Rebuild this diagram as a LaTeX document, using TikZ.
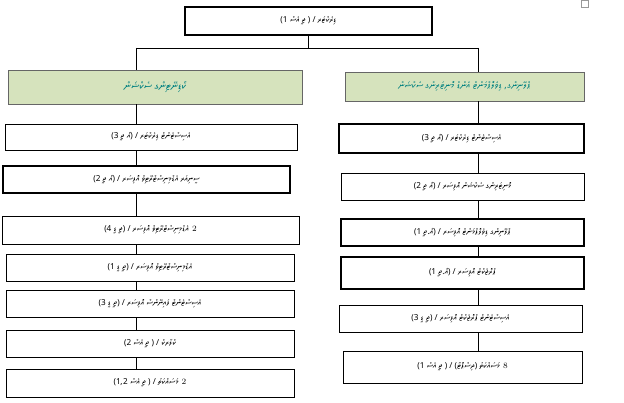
\documentclass[tikz,border=0pt]{standalone}
\usepackage{fontspec}
\usepackage{tikz}
\usetikzlibrary{calc}
\TeXXeTstate=1
\IfFontExistsTF{Noto Sans Thaana}{\newfontfamily\thaanafont[Script=Thaana]{Noto Sans Thaana}}{%
  \IfFontExistsTF{FreeSerif}{\newfontfamily\thaanafont[Script=Thaana]{FreeSerif}}{%
    \newfontfamily\thaanafont{DejaVu Sans}}}
\newcommand{\dv}[1]{{\thaanafont\beginR #1\endR}}
\begin{document}
\begin{tikzpicture}[x=0.03cm,y=-0.03cm,
    box/.style={draw, thin, inner sep=0pt, font=\scriptsize},
    thickbox/.style={box, line width=1.6pt},
    headbox/.style={draw=black!60, inner sep=0pt, font=\small\bfseries, text=teal}]
    \useasboundingbox (0,0) rectangle (624,403);
    \definecolor{hdgreen}{rgb}{0.84,0.89,0.74}
    %top
    \node[thickbox, minimum width=7.4cm, minimum height=0.84cm] (top) at (308.5,21) {\dv{ޑިރެކްޓަރ / ( ޖީ އެސް 1)}};
    \coordinate (jn) at (308.5,48);
    \coordinate (jl) at (136,48);
    \coordinate (jr) at (478,48);
    %heads
    \node[headbox, fill=hdgreen, minimum width=8.82cm, minimum height=1.02cm] (lh) at (155,87) {\dv{ކޯޑިނޭޓިންގ ސެކްޝަން}};
    \node[headbox, fill=hdgreen, minimum width=7.17cm, minimum height=0.87cm, font=\footnotesize\bfseries] (rh) at (464.5,86.5) {\dv{ޕްލޭނިންގ، ޑިވެލޮޕްމަންޓް އެންޑް މޮނިޓަރިންގ ސެކްޝަން}};
    %left column
    \node[box, minimum width=8.76cm, minimum height=0.78cm] (l1) at (151,137) {\dv{އެސިސްޓެންޓް ޑިރެކްޓަރ / (އޯ ޖީ 3)}};
    \node[thickbox, minimum width=8.61cm, minimum height=0.81cm] (l2) at (146.5,179.5) {\dv{ސީނިއަރ އެޑްމިނިސްޓްރޭޓިވް އޮފިސަރ / (އޯ ޖީ 2)}};
    \node[box, minimum width=8.91cm, minimum height=0.84cm] (l3) at (150.5,230) {\dv{އެޑްމިނިސްޓްރޭޓިވް އޮފިސަރ / (ޖީ ޑީ 4)} 2};
    \node[box, minimum width=8.64cm, minimum height=0.81cm] (l4) at (150,267.5) {\dv{އެޑްމިނިސްޓްރޭޓިވް އޮފިސަރ / (ޖީ ޑީ 1)}};
    \node[box, minimum width=8.64cm, minimum height=0.81cm] (l5) at (150,303.5) {\dv{އެސިސްޓެންޓް ފައިނޭންސް އޮފިސަރ / (ޖީ ޑީ 3)}};
    \node[box, minimum width=8.64cm, minimum height=0.81cm] (l6) at (150,343.5) {\dv{ކްލާރކް / ( ޖީ އެސް 2)}};
    \node[box, minimum width=8.64cm, minimum height=0.84cm] (l7) at (150,383) {\dv{މަސައްކަތު / ( ޖީ އެސް 1،2)} 2};
    %right column
    \node[thickbox, minimum width=7.35cm, minimum height=0.87cm] (r1) at (461.5,138.5) {\dv{އެސިސްޓެންޓް ޑިރެކްޓަރ / (އޯ ޖީ 3)}};
    \node[box, minimum width=7.29cm, minimum height=0.81cm] (r2) at (462.5,186.5) {\dv{މޮނިޓަރިންގ ސެކްޝަން އޮފިސަރ / (އޯ ޖީ 2)}};
    \node[thickbox, minimum width=7.29cm, minimum height=0.81cm] (r3) at (462.5,232.5) {\dv{ޕްލޭނިންގ ޑިވެލޮޕްމަންޓް އޮފިސަރ / (އޯ.ޖީ 1)}};
    \node[thickbox, minimum width=7.29cm, minimum height=0.96cm] (r4) at (462.5,273) {\dv{ޕްރޮޖެކްޓް އޮފިސަރ / (އޯ.ޖީ 1)}};
    \node[box, minimum width=7.29cm, minimum height=0.81cm] (r5) at (460.5,318.5) {\dv{އެސިސްޓެންޓް ޕްރޮޖެކްޓް އޮފިސަރ / (ޖީ ޑީ 3)}};
    \node[box, minimum width=7.17cm, minimum height=0.96cm] (r6) at (462.5,367) {\dv{މަސައްކަތު (ދިސްޕޮޓާ) / ( ޖީ އެސް 1)} 8};
    %lines
    \draw (top) -- (jn);
    \draw (jl) -- (jr);
    \draw (jl) -- (jl |- lh.north);
    \draw (jr) -- (jr |- rh.north);
    \foreach \a/\b in {lh/l1,l1/l2,l2/l3,l3/l4,l4/l5,l5/l6,l6/l7}
        \draw (136,0 |- \a.south) -- (136,0 |- \b.north);
    \foreach \a/\b in {rh/r1,r1/r2,r2/r3,r3/r4,r4/r5,r5/r6}
        \draw (478,0 |- \a.south) -- (478,0 |- \b.north);
    \node[draw=black!40, minimum size=0.2cm, inner sep=0pt] (mark) at (585,4) {};
\end{tikzpicture}
\end{document}
